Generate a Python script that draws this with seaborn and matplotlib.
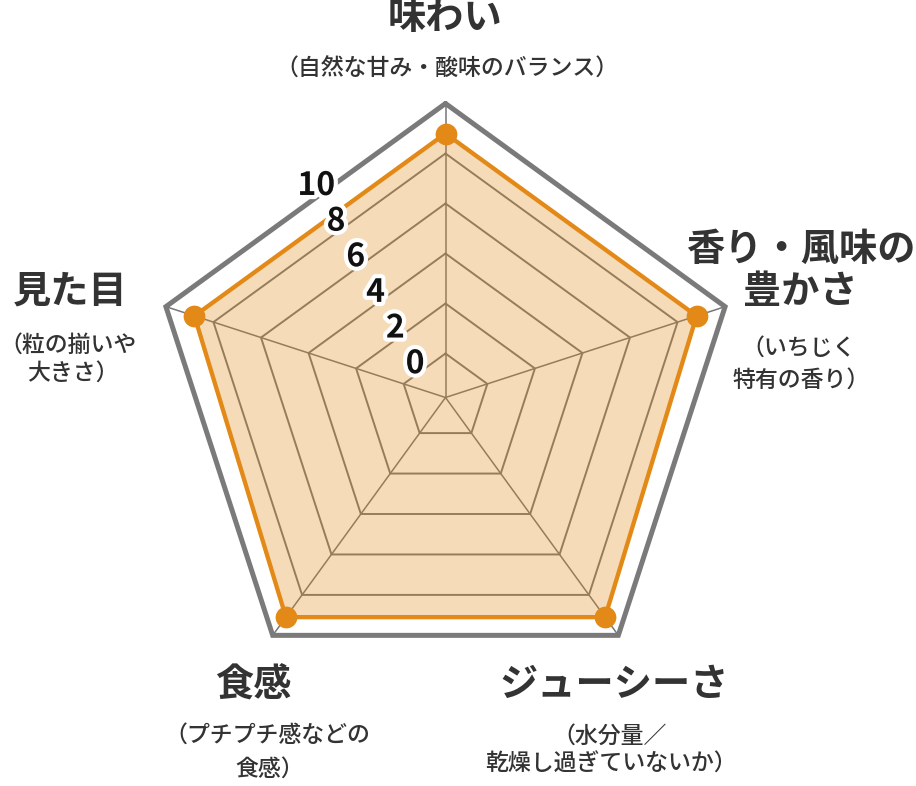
import numpy as np
import matplotlib
matplotlib.use("Agg")
import matplotlib.pyplot as plt
import matplotlib.patheffects as pe
import seaborn as sns

# Radar data (clockwise from the top)
categories = ["味わい", "香り・風味の豊かさ", "ジューシーさ", "食感", "見た目"]
scores = [8.8, 8.8, 9.1, 9.1, 8.8]
ring_ticks = [0, 2, 4, 6, 8, 10]
tick_labels = ["0", "2", "4", "6", "8", "10"]

# axis captions: (text, x px, y px, kind)
captions = [
    ("味わい", 445.5, 18, "title"),
    ("（自然な甘み・酸味のバランス）", 447, 69, "sub"),
    ("香り・風味の", 801, 249, "title"),
    ("豊かさ", 800, 292, "title"),
    ("（いちじく", 799, 348, "sub"),
    ("特有の香り）", 801, 380, "sub"),
    ("見た目", 70, 291, "title"),
    ("（粒の揃いや", 68, 345, "sub"),
    ("大きさ）", 73, 373, "sub"),
    ("食感", 253, 685, "title"),
    ("（プチプチ感などの", 267, 735, "sub"),
    ("食感）", 270, 769, "sub"),
    ("ジューシーさ", 614, 684, "title"),
    ("（水分量／", 610, 736, "sub"),
    ("乾燥し過ぎていないか）", 611, 764, "sub"),
]

sns.set_theme(style="white")
plt.rcParams["font.family"] = ["Noto Sans CJK JP", "DejaVu Sans"]

W, H = 916, 786
cx, cy, R = 445.5, 397.5, 294
r_min, r_max = -1.76, 10

orange = "#e28917"
grid_col = "#777777"
outer_col = "#7a7a7a"
text_col = "#333333"

fig = plt.figure(figsize=(W / 100, H / 100), dpi=100)
ax = fig.add_axes([(cx - R) / W, (H - cy - R) / H, 2 * R / W, 2 * R / H],
                  projection="polar")
ax.set_theta_zero_location("N")
ax.set_theta_direction(-1)
ax.set_ylim(r_min, r_max)
ax.set_axis_off()

n = len(categories)
theta = np.linspace(0, 2 * np.pi, n, endpoint=False)
theta_c = np.append(theta, 2 * np.pi)

# pentagon rings
for v in ring_ticks:
    if v == ring_ticks[-1]:
        ax.plot(theta_c, [v] * (n + 1), color=outer_col, lw=3.6, zorder=2,
                clip_on=False, solid_joinstyle="miter")
    else:
        ax.plot(theta_c, [v] * (n + 1), color=grid_col, lw=1.4, zorder=1)

# spokes
for t in theta:
    ax.plot([t, t], [r_min, r_max], color=grid_col, lw=1.1, zorder=1,
            clip_on=False)

# data polygon
vals_c = scores + scores[:1]
ax.fill(theta_c, vals_c, color=orange, alpha=0.3, lw=0, zorder=3)
sns.lineplot(x=theta_c, y=vals_c, sort=False, ax=ax, color=orange, lw=3.1,
             zorder=4)
sns.scatterplot(x=theta, y=scores, ax=ax, color=orange, s=245, linewidth=0,
                zorder=5, clip_on=False)
ax.set_xlabel("")
ax.set_ylabel("")

# radial tick labels sitting on the upper-left edge of each ring
phi = np.deg2rad(29)
k = np.cos(np.deg2rad(36)) / np.cos(np.deg2rad(36) - phi)
for v, lab in zip(ring_ticks, tick_labels):
    r_edge = r_min + k * (v - r_min)
    ax.annotate(lab, xy=(-phi, r_edge), xytext=(-9.4, 1.4),
                textcoords="offset points", ha="center", va="center",
                fontsize=23, fontweight="bold", color="#111111", zorder=6,
                annotation_clip=False,
                path_effects=[pe.withStroke(linewidth=6, foreground="white")])

for txt, x, y, kind in captions:
    if kind == "title":
        fig.text(x / W, 1 - y / H, txt, ha="center", va="center",
                 fontsize=27.5, fontweight="bold", color=text_col)
    else:
        fig.text(x / W, 1 - y / H, txt, ha="center", va="center",
                 fontsize=16.5, fontweight="medium", color=text_col)

fig.savefig("out.png", dpi=100, facecolor="white")
